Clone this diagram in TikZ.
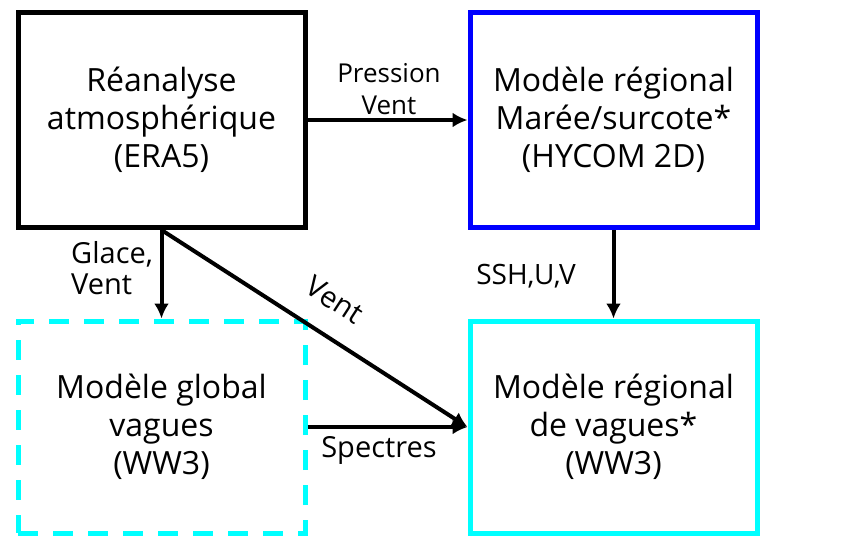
\documentclass[tikz,border=0pt]{standalone}
\usepackage{fontspec}
\setmainfont{Open Sans}
\usetikzlibrary{arrows.meta}
\definecolor{mdlblue}{RGB}{0,0,255}
\definecolor{mdlcyan}{RGB}{0,255,255}
\tikzset{
  mbox/.style={draw=black, line width=5pt, minimum width=287pt, minimum height=215pt, align=center, font=\fontsize{32}{38}\selectfont},
  mflow/.style={line width=4pt, -{Latex[length=15pt,width=15pt]}},
  mlbl/.style={font=\fontsize{#1}{31.5}\selectfont, inner sep=0pt},
  mlbl/.default=28
}

\begin{document}
\begin{tikzpicture}[x=1pt, y=-1pt]
    \useasboundingbox (0,0) rectangle (852,536);
    % models
    \node[mbox] (era) at (161.5,120) {Réanalyse\\atmosphérique\\(ERA5)};
    \node[mbox, draw=mdlblue] (hycom) at (613.5,120) {Modèle régional\\Marée/surcote*\\(HYCOM 2D)};
    \node[mbox, draw=mdlcyan, dash pattern=on 20pt off 15pt, minimum height=212pt] (global) at (161.5,427) {Modèle global\\vagues\\(WW3)};
    \node[mbox, draw=mdlcyan, minimum height=212pt] (regional) at (613.5,427) {Modèle régional\\de vagues*\\(WW3)};
    % forcings
    \draw[mflow] (era.east) -- (hycom.west);
    \draw[mflow] (era.south) -- (global.north);
    \draw[mflow] (era.south) -- (regional.west);
    \draw[mflow] (global.east) -- (regional.west);
    \draw[mflow] (hycom.south) -- (regional.north);
    % labels
    \node[mlbl=26, align=center] (lpress) at (389,89) {Pression\\Vent};
    \node[mlbl=29, align=left, anchor=west] (lglace) at (71,268) {Glace,\\Vent};
    \node[mlbl=29, rotate=-33] (lvent) at (335,300) {Vent};
    \node[mlbl] (lssh) at (526,276) {SSH,U,V};
    \node[mlbl=29] (lspec) at (379,450) {Spectres};
  \end{tikzpicture}
\end{document}
